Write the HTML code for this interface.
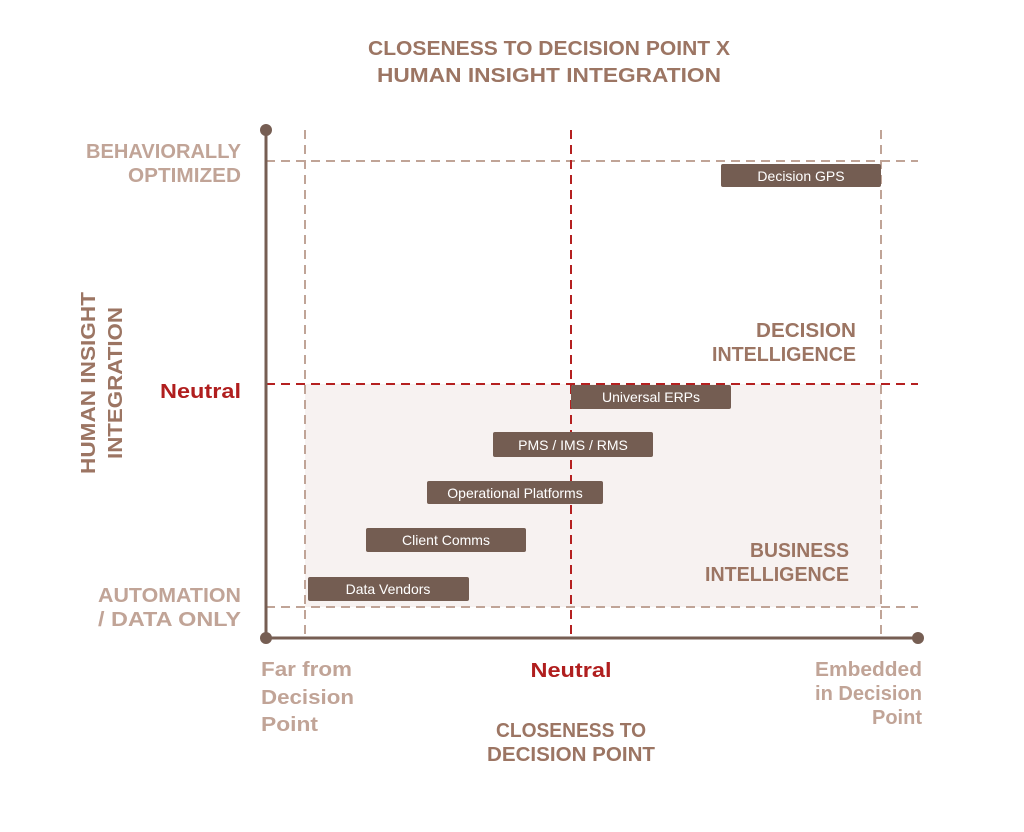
<!DOCTYPE html>
<html><head><meta charset="utf-8"><style>
html,body{margin:0;padding:0;background:#fff;}
svg{display:block;font-family:"Liberation Sans",sans-serif;}
.t{font-weight:bold;font-size:20px;fill:#9c7563;}
.l{font-weight:bold;font-size:20px;fill:#c1a497;}
.r{font-weight:bold;font-size:20px;fill:#b01e1e;}
.b{font-size:14px;fill:#fff;}
</style></head><body>
<svg width="1024" height="832" viewBox="0 0 1024 832">
<text class="t" x="549" y="55" text-anchor="middle" textLength="362" lengthAdjust="spacingAndGlyphs">CLOSENESS TO DECISION POINT X</text>
<text class="t" x="549" y="82" text-anchor="middle" textLength="344" lengthAdjust="spacingAndGlyphs">HUMAN INSIGHT INTEGRATION</text>
<rect x="305" y="384" width="576" height="223" fill="#f7f2f1"/>
<g stroke="#c0a497" stroke-width="2" stroke-dasharray="9,6" fill="none">
<line x1="305" y1="130" x2="305" y2="638"/>
<line x1="881" y1="130" x2="881" y2="638"/>
<line x1="266" y1="161" x2="918" y2="161"/>
<line x1="266" y1="607" x2="918" y2="607"/>
</g>
<g stroke="#b52020" stroke-width="2" stroke-dasharray="9,6" fill="none">
<line x1="571" y1="130" x2="571" y2="638"/>
<line x1="266" y1="384" x2="918" y2="384"/>
</g>
<g stroke="#765e53" stroke-width="3">
<line x1="266" y1="130" x2="266" y2="638"/>
<line x1="266" y1="638" x2="918" y2="638"/>
</g>
<g fill="#765e53"><circle cx="266" cy="130" r="6"/><circle cx="266" cy="638" r="6"/><circle cx="918" cy="638" r="6"/></g>
<g fill="#745d52">
<rect x="721" y="164" width="160" height="23" rx="2"/>
<rect x="571" y="385" width="160" height="24" rx="2"/>
<rect x="493" y="432" width="160" height="25" rx="2"/>
<rect x="427" y="481" width="176" height="23" rx="2"/>
<rect x="366" y="528" width="160" height="24" rx="2"/>
<rect x="308" y="577" width="161" height="24" rx="2"/>
</g>
<g class="b" text-anchor="middle">
<text x="801" y="181">Decision GPS</text>
<text x="651" y="402">Universal ERPs</text>
<text x="573" y="450">PMS / IMS / RMS</text>
<text x="515" y="498">Operational Platforms</text>
<text x="446" y="545">Client Comms</text>
<text x="388" y="594">Data Vendors</text>
</g>
<text class="l" x="241" y="158" text-anchor="end" textLength="155" lengthAdjust="spacingAndGlyphs">BEHAVIORALLY</text>
<text class="l" x="241" y="182" text-anchor="end" textLength="113" lengthAdjust="spacingAndGlyphs">OPTIMIZED</text>
<text class="l" x="241" y="602" text-anchor="end" textLength="143" lengthAdjust="spacingAndGlyphs">AUTOMATION</text>
<text class="l" x="241" y="626" text-anchor="end" textLength="143" lengthAdjust="spacingAndGlyphs">/ DATA ONLY</text>
<text class="r" x="241" y="398" text-anchor="end" textLength="81" lengthAdjust="spacingAndGlyphs">Neutral</text>
<text class="t" transform="translate(95,383) rotate(-90)" text-anchor="middle" textLength="182" lengthAdjust="spacingAndGlyphs">HUMAN INSIGHT</text>
<text class="t" transform="translate(122,383) rotate(-90)" text-anchor="middle" textLength="152" lengthAdjust="spacingAndGlyphs">INTEGRATION</text>
<text class="t" x="856" y="337" text-anchor="end" textLength="100" lengthAdjust="spacingAndGlyphs">DECISION</text>
<text class="t" x="856" y="361" text-anchor="end" textLength="144" lengthAdjust="spacingAndGlyphs">INTELLIGENCE</text>
<text class="t" x="849" y="557" text-anchor="end" textLength="99" lengthAdjust="spacingAndGlyphs">BUSINESS</text>
<text class="t" x="849" y="581" text-anchor="end" textLength="144" lengthAdjust="spacingAndGlyphs">INTELLIGENCE</text>
<text class="l" x="261" y="676" textLength="91" lengthAdjust="spacingAndGlyphs">Far from</text>
<text class="l" x="261" y="704" textLength="93" lengthAdjust="spacingAndGlyphs">Decision</text>
<text class="l" x="261" y="731" textLength="57" lengthAdjust="spacingAndGlyphs">Point</text>
<text class="r" x="571" y="677" text-anchor="middle" textLength="81" lengthAdjust="spacingAndGlyphs">Neutral</text>
<text class="l" x="922" y="676" text-anchor="end" textLength="107" lengthAdjust="spacingAndGlyphs">Embedded</text>
<text class="l" x="922" y="700" text-anchor="end" textLength="107" lengthAdjust="spacingAndGlyphs">in Decision</text>
<text class="l" x="922" y="724" text-anchor="end" textLength="50" lengthAdjust="spacingAndGlyphs">Point</text>
<text class="t" x="571" y="737" text-anchor="middle" textLength="150" lengthAdjust="spacingAndGlyphs">CLOSENESS TO</text>
<text class="t" x="571" y="761" text-anchor="middle" textLength="168" lengthAdjust="spacingAndGlyphs">DECISION POINT</text>
</svg>
</body></html>
